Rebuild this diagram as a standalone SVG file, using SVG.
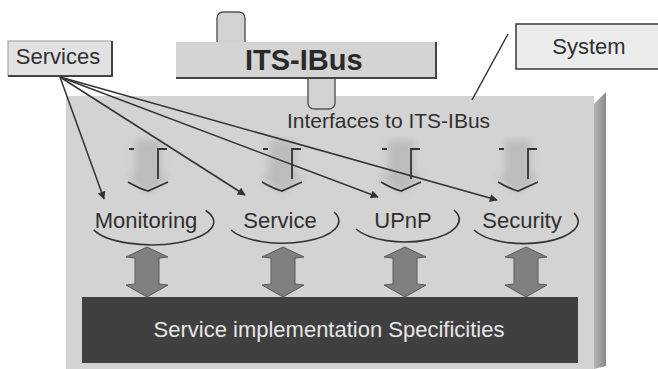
<svg xmlns="http://www.w3.org/2000/svg" width="658" height="369" viewBox="0 0 658 369">
  <style>
    text { font-family: "Liberation Sans", Arial, sans-serif; fill: #303030; }
    .lbl { font-size: 22px; text-anchor: middle; }
    .panel { fill: #d3d3d3; }
    .tab { fill: #d2d2d2; stroke: #555; stroke-width: 1.4; }
    .ring { fill: none; stroke: #333; stroke-width: 1.6; }
    .ghost { fill: #bcbcbc; filter: url(#soft); }
    .mark { fill: none; stroke: #333; stroke-width: 1.8; }
    .dbl { fill: #808080; stroke: #5a5a5a; stroke-width: 1; }
    .link { fill: none; stroke: #333; stroke-width: 1.5; marker-end: url(#tip); }
  </style>
  <defs>
    <marker id="tip" viewBox="0 0 10 10" refX="9" refY="5" markerWidth="10" markerHeight="8" markerUnits="userSpaceOnUse" orient="auto">
      <path d="M0,0 L10,5 L0,10 z" fill="#333"/>
    </marker>
    <filter id="soft" x="-40%" y="-40%" width="180%" height="180%">
      <feGaussianBlur stdDeviation="3.5"/>
    </filter>
    <linearGradient id="side" x1="0" y1="0" x2="1" y2="0">
      <stop offset="0" stop-color="#b5b5b5"/>
      <stop offset="1" stop-color="#8a8a8a"/>
    </linearGradient>
    <!-- soft downward arrow toward each service -->
    <g id="down">
      <path class="ghost" d="M-13,140 L13,140 L13,175 L23,175 L0,194 L-23,175 L-13,175 z"/>
      <path class="mark" d="M-19,149 L-14,149 M19,149 L10,149 L10,179 M-20,182 Q-8,189 0,191 L20,182"/>
    </g>
    <!-- two-headed arrow down to the implementation block -->
    <path id="both" class="dbl" d="M0,247 L21,257 L12,258 L12,284 L21,285 L0,297 L-21,285 L-12,284 L-12,258 L-21,257 z"/>
  </defs>

  <!-- system body with extruded side -->
  <g id="system-body">
    <rect class="panel" x="66" y="96" width="528" height="273"/>
    <polygon points="594,104 606,92 606,366 594,369" fill="url(#side)"/>
  </g>

  <!-- ITS-IBus bus bar with its two connectors -->
  <g id="its-ibus">
    <rect class="tab" x="217" y="12" width="28" height="40" rx="6"/>
    <rect class="tab" x="308" y="66" width="27" height="43" rx="6"/>
    <rect x="176" y="42" width="260" height="36" fill="#d4d4d4"/>
    <path d="M436,42 L436,78 L176,78" fill="none" stroke="#444" stroke-width="2"/>
    <text x="245" y="70" style="font-size:29px;font-weight:bold;fill:#2a2a2a">ITS-IBus</text>
  </g>

  <g id="interfaces-label">
    <text x="287" y="128" style="font-size:21px">Interfaces to ITS-IBus</text>
  </g>

  <g id="services">
    <rect x="8" y="41" width="104" height="35" fill="#e2e2e2" stroke="#999" stroke-width="1"/>
    <path d="M112,41 L112,76 L8,76" fill="none" stroke="#444" stroke-width="2"/>
    <text class="lbl" x="58" y="64">Services</text>
  </g>

  <g id="system">
    <rect x="516" y="24" width="150" height="45" fill="#ececec" stroke="#444" stroke-width="1.6"/>
    <text class="lbl" x="589" y="54">System</text>
  </g>

  <g id="monitoring">
    <use href="#down" x="148"/>
    <path class="ring" d="M93.7,229.9 A62,23 0 1 0 205.7,210.5"/>
    <text class="lbl" x="146" y="228">Monitoring</text>
    <use href="#both" x="147"/>
  </g>

  <g id="service">
    <use href="#down" x="282"/>
    <path class="ring" d="M231,230 A56,22 0 1 0 334,212"/>
    <text class="lbl" x="280" y="228">Service</text>
    <use href="#both" x="283"/>
  </g>

  <g id="upnp">
    <use href="#down" x="401"/>
    <path class="ring" d="M356,229 A53,22 0 1 0 454,210"/>
    <text class="lbl" x="403" y="228">UPnP</text>
    <use href="#both" x="405"/>
  </g>

  <g id="security">
    <use href="#down" x="518"/>
    <path class="ring" d="M474,230 A54,22 0 1 0 574,213"/>
    <text class="lbl" x="522" y="228">Security</text>
    <use href="#both" x="526"/>
  </g>

  <g id="implementation">
    <rect x="82" y="297" width="496" height="66" fill="#404040"/>
    <text class="lbl" x="329" y="337" style="fill:#e6e6e6">Service implementation Specificities</text>
  </g>

  <g id="connectors">
    <path class="link" d="M60,77 L104,199"/>
    <path class="link" d="M60,77 L245,195"/>
    <path class="link" d="M60,77 L378,197"/>
    <path class="link" d="M60,77 L497,200"/>
    <path d="M508,34 L472,100" fill="none" stroke="#333" stroke-width="1.5"/>
  </g>
</svg>
